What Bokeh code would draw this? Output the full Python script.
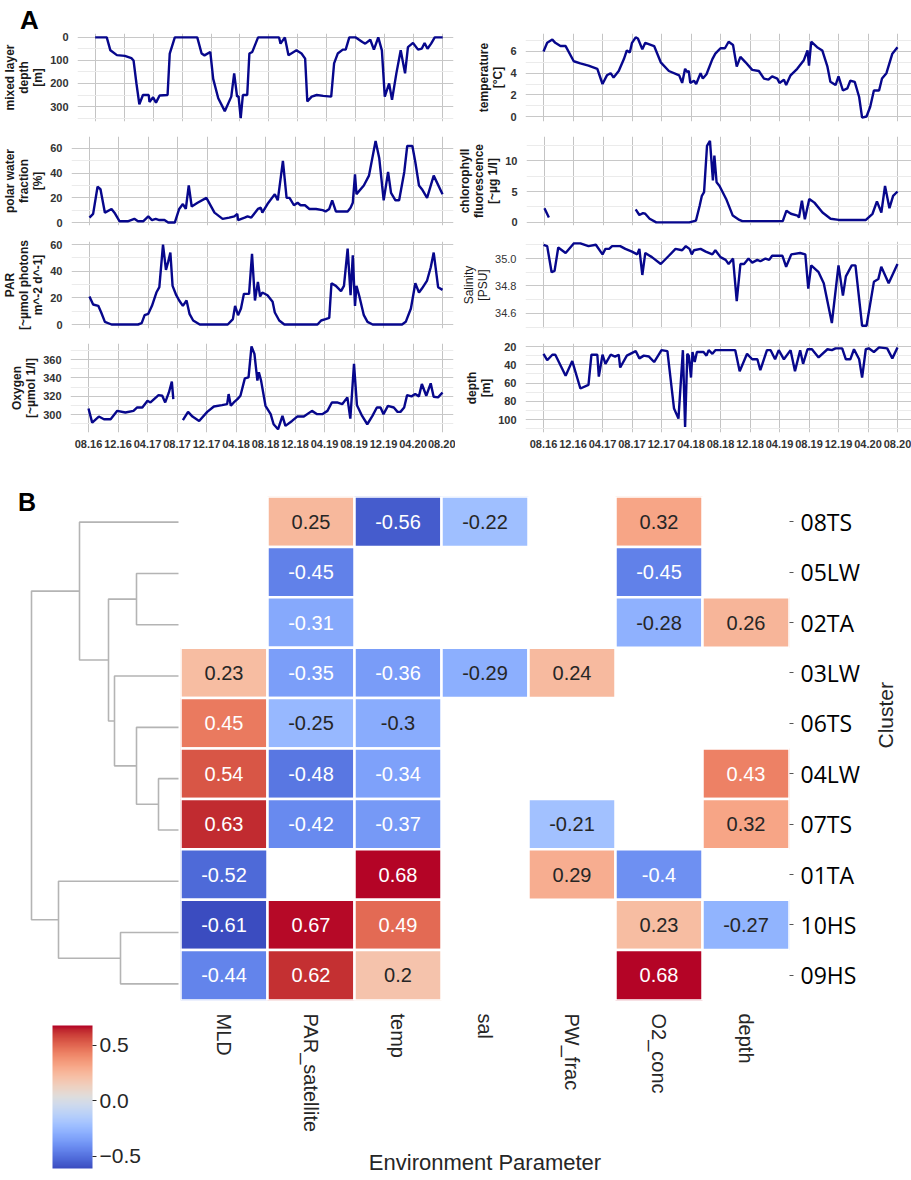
import math
import numpy as np
from bokeh.plotting import figure
from bokeh.layouts import row, column
from bokeh.models import (Range1d, FixedTicker, LinearColorMapper, ColorBar, Div,
                          ColumnDataSource, NumeralTickFormatter)
from bokeh.core.properties import value
from bokeh.embed import file_html
from bokeh.resources import INLINE

nan = float("nan")

# ------------------------------------------------------------------ Panel A data
# x = months since 08.2016
date_ticks = [0, 4, 8, 12, 16, 20, 24, 28, 32, 36, 40, 44, 48]
date_labels = ["08.16", "12.16", "04.17", "08.17", "12.17", "04.18", "08.18",
               "12.18", "04.19", "08.19", "12.19", "04.20", "08.20"]

mld_month = [0.0, 1.6, 2.1, 3.0, 4.1, 5.0, 5.3, 5.7, 6.1, 6.6, 7.4, 7.5, 8.0, 8.4, 8.9, 10.0, 10.3, 11.0,
             14.1, 14.7, 15.1, 15.9, 16.3, 17.0, 17.9, 18.8, 19.2, 19.6, 19.8, 20.1, 20.4, 21.0, 21.3, 21.7,
             22.5, 25.4, 25.6, 26.2, 26.7, 27.8, 28.5, 29.0, 29.3, 29.9, 30.6, 31.5, 32.6, 33.0, 33.5, 34.2,
             34.6, 35.1, 36.0, 36.9, 37.3, 38.0, 38.5, 39.1, 39.6, 40.0, 40.6, 41.0, 41.6, 42.2, 42.8, 43.2,
             43.9, 44.6, 45.1, 45.5, 45.9, 46.4, 46.9, 48.0]
mld_m = [0, 0, 56, 77, 80, 90, 100, 200, 290, 250, 250, 280, 260, 283, 252, 250, 70, 0,
         0, 70, 78, 63, 180, 264, 320, 257, 156, 257, 255, 350, 250, 250, 70, 63,
         0, 0, 27, 0, 77, 56, 70, 92, 278, 257, 250, 254, 257, 113, 70, 53,
         53, 0, 0, 20, 27, 10, 53, 0, 56, 257, 200, 271, 156, 56, 156, 42,
         24, 53, 49, 24, 49, 27, 0, 0]

temp_month = [0.0, 0.5, 1.2, 1.6, 2.3, 3.0, 4.1, 5.0, 6.1, 7.3, 8.0, 8.6, 9.1, 9.5, 10.2, 10.9, 11.3, 11.7,
              12.0, 12.5, 12.8, 13.4, 13.8, 15.0, 15.9, 17.0, 18.4, 18.8, 19.2, 19.5, 19.7, 19.9, 20.4, 20.7,
              21.3, 21.6, 22.1, 22.9, 23.3, 24.0, 24.6, 25.1, 25.7, 26.2, 26.7, 27.4, 28.3, 29.2, 29.9, 30.5,
              31.0, 31.7, 32.0, 32.6, 32.9, 33.5, 34.4, 35.3, 35.8, 36.0, 36.3, 37.1, 37.8, 38.5, 38.9, 39.6,
              40.0, 40.6, 41.2, 41.6, 42.2, 42.8, 43.2, 43.8, 44.3, 44.8, 45.5, 45.9, 46.5, 47.3, 48.0]
temp_c = [6.0, 6.8, 7.1, 6.8, 6.5, 6.5, 5.1, 4.9, 4.7, 4.4, 3.0, 3.8, 4.0, 3.6, 4.2, 5.3, 6.1, 5.9,
          6.8, 7.3, 7.2, 6.2, 6.8, 6.5, 5.0, 4.2, 3.8, 3.1, 4.4, 4.1, 4.2, 3.1, 3.3, 3.0,
          4.0, 3.5, 3.9, 5.3, 5.8, 6.3, 6.3, 6.9, 6.6, 4.6, 5.5, 5.0, 4.3, 4.2, 3.5, 3.4,
          3.7, 3.5, 3.1, 3.4, 2.9, 3.8, 4.4, 5.2, 6.1, 4.7, 6.9, 6.4, 6.1, 4.6, 3.2, 2.9,
          3.7, 2.4, 2.6, 3.3, 3.2, 1.8, -0.1, 0.0, 0.9, 2.4, 2.4, 3.5, 4.0, 5.8, 6.4]

pw_month = [0.0, 0.5, 1.1, 1.5, 2.1, 3.0, 3.4, 4.1, 5.2, 6.1, 6.6, 7.3, 8.0, 8.5, 9.0, 9.5, 10.2, 10.7,
            11.6, 12.2, 12.7, 13.1, 13.5, 13.9, 14.7, 15.9, 17.0, 18.1, 19.0, 19.7, 20.1, 20.2, 21.1, 21.5,
            22.0, 22.9, 23.3, 23.5, 24.2, 25.2, 25.6, 26.3, 26.8, 27.2, 27.8, 28.3, 28.7, 29.3, 29.9, 30.8,
            31.7, 32.1, 32.6, 33.0, 33.5, 35.1, 35.5, 35.8, 36.1, 36.3, 37.3, 38.0, 38.9, 39.4, 40.0, 40.6,
            41.0, 41.6, 42.1, 42.8, 43.2, 43.9, 44.3, 44.8, 45.2, 45.9, 46.8, 48.0]
pw_pct = [4, 7, 29, 27, 8, 11, 8, 1, 1, 3, 1, 1, 5, 2, 3, 2, 2, 0,
          0, 11, 15, 11, 30, 13, 16, 20, 8, 3, 4, 5, 7, 2, 4, 5,
          4, 11, 12, 8, 15, 23, 18, 50, 20, 20, 14, 16, 14, 14, 11, 11,
          10, 9, 11, 18, 9, 9, 12, 16, 39, 23, 30, 38, 66, 52, 18, 41,
          24, 18, 18, 41, 62, 62, 49, 30, 27, 20, 38, 23]

chl_month = [0.0, 0.6, 6.0, 12.4, 12.9, 13.4, 13.7, 14.3, 15.2, 19.7, 20.6, 21.1, 21.4, 21.7, 22.1, 22.5,
             22.9, 23.1, 23.4, 23.8, 24.7, 25.6, 26.5, 26.9, 32.4, 32.9, 33.5, 34.4, 34.6, 35.0, 35.4, 36.0,
             36.7, 37.8, 38.9, 40.0, 43.7, 44.6, 45.2, 45.8, 46.3, 46.9, 47.4, 48.0]
chl_ug = [2.3, 0.8, nan, 2.1, 1.2, 1.5, 1.4, 0.6, 0.0, 0.0, 0.3, 2.7, 4.3, 4.9, 12.4, 13.2,
          6.8, 10.8, 6.5, 5.9, 3.8, 1.1, 0.4, 0.2, 0.2, 1.9, 1.4, 1.1, 0.8, 3.5, 0.5, 3.8,
          3.2, 1.6, 0.6, 0.4, 0.4, 1.4, 3.4, 1.6, 5.9, 2.3, 4.3, 5.0]

par_month = [0.0, 0.5, 1.2, 1.6, 2.1, 3.0, 6.6, 7.1, 7.5, 8.0, 8.5, 9.1, 9.5, 10.0, 10.4, 10.7, 11.0, 11.3,
             11.8, 12.2, 12.7, 13.2, 13.6, 14.1, 15.0, 18.8, 19.5, 19.8, 20.2, 20.6, 21.0, 21.7, 22.1, 22.5,
             22.9, 23.2, 23.5, 24.2, 24.9, 25.2, 25.8, 26.5, 31.0, 31.5, 32.1, 32.6, 32.9, 33.5, 34.2, 34.6,
             35.1, 35.5, 35.8, 36.1, 36.3, 36.7, 37.3, 37.8, 38.5, 42.5, 43.0, 43.7, 44.3, 44.8, 45.2, 45.9,
             46.4, 46.8, 47.4, 48.0]
par_val = [21, 15, 14, 9, 2, 0, 0, 1, 7, 8, 14, 24, 28, 60, 41, 47, 54, 29,
           22, 18, 14, 18, 8, 3, 0, 0, 4, 14, 7, 12, 23, 23, 53, 18,
           32, 21, 24, 22, 17, 9, 3, 0, 0, 3, 4, 5, 31, 29, 25, 29,
           57, 22, 52, 14, 29, 21, 7, 2, 0, 0, 2, 12, 31, 24, 27, 33,
           43, 54, 28, 26]

sal_month = [0.0, 0.5, 1.1, 1.5, 2.0, 3.0, 4.1, 5.0, 6.1, 7.1, 8.0, 8.4, 8.9, 9.3, 10.4, 11.1, 12.0, 12.7,
             13.0, 13.4, 13.8, 14.7, 15.9, 17.0, 17.9, 18.8, 19.3, 19.8, 20.1, 20.4, 21.3, 22.0, 22.9, 23.3,
             24.0, 24.7, 25.1, 25.7, 26.2, 26.7, 27.2, 27.8, 28.3, 29.0, 29.4, 30.1, 30.6, 31.0, 32.4, 32.9,
             33.6, 34.8, 35.5, 35.9, 36.3, 37.3, 38.0, 39.1, 40.0, 40.6, 41.0, 41.8, 42.3, 43.2, 43.8, 44.8,
             45.4, 45.8, 46.8, 48.0]
sal_psu = [35.10, 35.09, 34.90, 34.91, 35.08, 35.04, 35.11, 35.11, 35.09, 35.10, 35.03, 35.07, 35.07,
           35.09, 35.09, 35.07, 35.05, 35.03, 35.07, 34.88, 35.04, 35.01, 34.96, 35.02, 35.07, 35.06,
           35.09, 35.07, 35.03, 35.06, 35.07, 35.05, 35.03, 35.06, 35.01, 34.99, 34.96, 35.00, 34.69,
           34.96, 34.96, 35.00, 34.97, 34.99, 34.98, 35.00, 34.99, 35.02, 35.02, 34.94, 35.03, 35.04,
           35.03, 34.78, 34.95, 34.90, 34.82, 34.53, 34.95, 34.73, 34.87, 34.95, 34.95, 34.51, 34.51,
           34.83, 34.85, 34.94, 34.82, 34.96]

oxy_month = [0.0, 0.5, 1.4, 2.1, 3.0, 3.9, 5.0, 6.1, 6.6, 7.3, 8.0, 8.4, 9.5, 10.0, 10.4, 10.9, 11.3, 11.5,
             12.1, 12.8, 13.5, 14.1, 15.0, 16.1, 17.0, 18.1, 18.8, 19.0, 19.3, 19.7, 20.2, 20.6, 21.2, 21.7,
             22.1, 22.5, 22.9, 23.1, 23.4, 24.0, 24.7, 25.1, 25.7, 26.3, 26.7, 27.6, 28.3, 29.2, 30.3, 31.0,
             31.7, 32.4, 33.0, 33.7, 34.4, 35.1, 35.5, 36.0, 36.4, 37.1, 37.8, 38.5, 39.1, 39.6, 40.0, 40.6,
             41.4, 41.9, 42.3, 42.8, 43.2, 43.8, 44.3, 44.8, 45.2, 45.8, 46.4, 46.8, 47.4, 48.0]
oxy_umol = [306.6, 291.2, 297.8, 294.9, 294.9, 304.0, 302.2, 304.0, 307.7, 307.7, 315.0, 313.2, 321.2,
            320.5, 313.2, 324.1, 335.9, 316.8, nan, 293.8, 302.9, 297.8, 293.0, 302.9, 308.8, 310.2,
            311.3, 322.3, 309.5, 313.2, 316.8, 320.5, 339.5, 340.6, 374.3, 366.2, 337.0, 346.1, 337.0,
            309.5, 300.4, 289.4, 283.9, 298.5, 287.6, 293.0, 297.8, 297.8, 304.0, 300.4, 300.4, 304.0,
            313.2, 313.2, 311.3, 318.7, 295.6, 355.2, 310.2, 298.5, 289.4, 298.5, 307.7, 307.7, 300.4,
            309.5, 307.7, 302.9, 302.9, 307.7, 321.2, 319.8, 322.3, 319.8, 333.3, 320.5, 334.0, 319.4,
            318.7, 324.1]

dep_month = [0.0, 0.5, 1.2, 1.6, 3.0, 3.9, 5.0, 6.1, 6.5, 7.3, 7.5, 8.0, 8.4, 9.1, 9.7, 10.2, 10.4, 11.3,
             12.5, 13.0, 13.6, 14.3, 15.0, 16.0, 16.8, 17.7, 18.3, 18.9, 19.2, 19.5, 19.7, 20.0, 20.2, 20.5,
             20.8, 21.7, 22.1, 22.4, 22.9, 23.3, 24.2, 26.0, 26.6, 27.6, 28.3, 29.0, 29.4, 30.3, 30.8, 31.4,
             31.9, 32.6, 33.5, 34.1, 34.8, 35.2, 35.8, 36.4, 37.3, 38.5, 39.1, 39.6, 40.5, 41.0, 41.6, 42.1,
             42.8, 43.2, 43.7, 44.1, 44.8, 45.5, 46.6, 47.3, 48.0]
dep_m = [28, 35, 29, 29, 52, 36, 66, 62, 29, 29, 53, 29, 39, 29, 31, 29, 43, 30,
         25, 33, 30, 31, 37, 24, 25, 88, 99, 24, 108, 28, 30, 54, 26, 37,
         26, 26, 30, 24, 28, 24, 24, 24, 47, 28, 34, 34, 46, 24, 24, 34,
         24, 34, 24, 47, 24, 39, 23, 23, 32, 23, 24, 22, 22, 34, 34, 23,
         34, 54, 23, 22, 26, 21, 22, 33, 21]

# ------------------------------------------------------------------ Panel B data
clusters = ["08TS", "05LW", "02TA", "03LW", "06TS", "04LW", "07TS", "01TA", "10HS", "09HS"]
params = ["MLD", "PAR_satellite", "temp", "sal", "PW_frac", "O2_conc", "depth"]
corr_MLD = [nan, nan, nan, 0.23, 0.45, 0.54, 0.63, -0.52, -0.61, -0.44]
corr_PAR_satellite = [0.25, -0.45, -0.31, -0.35, -0.25, -0.48, -0.42, nan, 0.67, 0.62]
corr_temp = [-0.56, nan, nan, -0.36, -0.3, -0.34, -0.37, 0.68, 0.49, 0.2]
corr_sal = [-0.22, nan, nan, -0.29, nan, nan, nan, nan, nan, nan]
corr_PW_frac = [nan, nan, nan, 0.24, nan, nan, -0.21, 0.29, nan, nan]
corr_O2_conc = [0.32, -0.45, -0.28, nan, nan, nan, nan, -0.4, 0.23, 0.68]
corr_depth = [nan, nan, 0.26, nan, nan, 0.43, 0.32, nan, -0.27, nan]
cbar_ticks = [-0.5, 0.0, 0.5]
cbar_tick_labels = ["\u22120.5", "0.0", "0.5"]

# dendrogram merges: (child a, child b, merge height); leaves 0..9 in cluster order, new nodes 10..
dendro_merges = [(5, 6, 20), (1, 2, 42), (4, 10, 42), (8, 9, 58), (3, 12, 64),
                 (11, 14, 70), (0, 15, 99), (7, 13, 120), (16, 17, 147)]

# ------------------------------------------------------------------ styling helpers
LINE_COLOR = "#07078c"
FONT = "Liberation Sans"

# matplotlib "coolwarm" (Moreland) anchor colours
_coolwarm_anchors = [
    (59, 76, 192), (68, 90, 204), (77, 104, 215), (87, 117, 225), (98, 130, 234), (108, 142, 241),
    (119, 154, 247), (130, 165, 251), (141, 176, 254), (152, 185, 255), (163, 194, 255), (174, 201, 253),
    (184, 208, 249), (194, 213, 244), (204, 217, 238), (213, 219, 230), (221, 221, 221), (229, 216, 209),
    (236, 211, 197), (241, 204, 185), (245, 196, 173), (247, 187, 160), (247, 177, 148), (247, 166, 135),
    (244, 154, 123), (241, 141, 111), (236, 127, 99), (229, 112, 88), (222, 96, 77), (213, 80, 66),
    (203, 62, 56), (192, 40, 47), (180, 4, 38)]


def make_palette(anchors, n=256):
    out = []
    for i in range(n):
        t = i / (n - 1) * (len(anchors) - 1)
        k = min(int(t), len(anchors) - 2)
        f = t - k
        c = [round(anchors[k][j] + (anchors[k + 1][j] - anchors[k][j]) * f) for j in range(3)]
        out.append("#%02x%02x%02x" % tuple(c))
    return out


COOLWARM = make_palette(_coolwarm_anchors)


def rel_lum(hexc):
    rgb = [int(hexc[i:i + 2], 16) / 255 for i in (1, 3, 5)]
    lin = [c / 12.92 if c <= 0.03928 else ((c + 0.055) / 1.055) ** 2.4 for c in rgb]
    return 0.2126 * lin[0] + 0.7152 * lin[1] + 0.0722 * lin[2]


PX_PER_MONTH = 7.375


def ts_panel(month, vals, yr, yticks, yminor, label, side, top, bottom, height,
             show_dates=False, bold=True, yfmt=None):
    if side == "left":
        width, left, right, frame_w = 455, 70, 2, 383
    else:
        width, left, right, frame_w = 456, 70, 0, 386
    x0 = -18 / PX_PER_MONTH
    xr = Range1d(x0, x0 + frame_w / PX_PER_MONTH)
    p = figure(width=width, height=height, x_range=xr, y_range=Range1d(*yr),
               output_backend="svg", toolbar_location=None,
               min_border_left=left, min_border_right=right,
               min_border_top=top, min_border_bottom=bottom)
    p.outline_line_color = None
    src = ColumnDataSource(dict(month=np.array(month, dtype=float), val=np.array(vals, dtype=float)))
    p.line("month", "val", source=src, line_color=LINE_COLOR, line_width=2.4)

    xt = FixedTicker(ticks=date_ticks, minor_ticks=[])
    p.xaxis.ticker = xt
    p.xgrid.ticker = xt
    p.xgrid.grid_line_color = "#c4c4c4"
    yt = FixedTicker(ticks=yticks, minor_ticks=yminor)
    p.yaxis.ticker = yt
    p.ygrid.ticker = yt
    p.ygrid.grid_line_color = "#c8c8c8"
    p.ygrid.minor_grid_line_color = "#ebebeb"
    if yfmt is not None:
        p.yaxis.formatter = NumeralTickFormatter(format=yfmt)

    style = "bold" if bold else "normal"
    for ax in (p.xaxis[0], p.yaxis[0]):
        ax.axis_line_color = None
        ax.major_tick_line_color = None
        ax.minor_tick_line_color = None
        ax.major_label_text_font = FONT
        ax.major_label_text_font_size = "11px"
        ax.major_label_text_font_style = style
        ax.major_label_text_color = "#333333"
    p.yaxis.major_label_standoff = 3
    p.yaxis.axis_label = label
    p.yaxis.axis_label_text_font = FONT
    p.yaxis.axis_label_text_font_size = "12px"
    p.yaxis.axis_label_text_font_style = style
    p.yaxis.axis_label_text_color = "#1a1a1a"
    p.yaxis.axis_label_text_line_height = 1.0
    p.yaxis.axis_label_standoff = 2
    if show_dates:
        p.xaxis.major_label_overrides = {t: l for t, l in zip(date_ticks, date_labels)}
        p.xaxis.major_label_standoff = 1
    else:
        p.xaxis.visible = False
    return p


# row borders / heights (top, bottom, height)
R1 = (3, 8, 99)
R2 = (7, 8, 104)
R3 = (8, 8, 103)
R4 = (7, 56, 152)

p_mld = ts_panel(mld_month, mld_m, (365, -17), [0, 100, 200, 300], [50, 150, 250, 350],
                 "mixed layer\ndepth\n[m]", "left", *R1)
p_temp = ts_panel(temp_month, temp_c, (-0.46, 7.66), [0, 2, 4, 6], [1, 3, 5, 7],
                  "temperature\n[°C]", "right", *R1)
p_pw = ts_panel(pw_month, pw_pct, (-2.4, 69.7), [0, 20, 40, 60], [10, 30, 50],
                "polar water\nfraction\n[%]", "left", *R2)
p_chl = ts_panel(chl_month, chl_ug, (-0.5, 13.9), [0, 5, 10], [2.5, 7.5, 12.5],
                 "chlorophyll\nfluorescence\n[~µg 1/l]", "right", *R2)
p_par = ts_panel(par_month, par_val, (-3, 62.3), [0, 20, 40, 60], [10, 30, 50],
                 "PAR\n[~µmol photons\nm^-2 d^-1]", "left", *R3)
p_sal = ts_panel(sal_month, sal_psu, (34.49, 35.124), [34.6, 34.8, 35.0], [34.5, 34.7, 34.9, 35.1],
                 "Salinity\n[PSU]", "right", *R3, bold=False, yfmt="0.0")
p_oxy = ts_panel(oxy_month, oxy_umol, (280.4, 377.5), [300, 320, 340, 360], [290, 310, 330, 350, 370],
                 "Oxygen\n[~µmol 1/l]", "left", *R4, show_dates=True)
p_dep = ts_panel(dep_month, dep_m, (114.2, 16.7), [20, 40, 60, 80, 100], [30, 50, 70, 90, 110],
                 "depth\n[m]", "right", *R4, show_dates=True)

div_a = Div(text='<div style="font-family:Liberation Sans,Arial,sans-serif;font-weight:bold;'
                 'font-size:26px;line-height:26px;padding:7px 0 0 20px;color:#000;">A</div>',
            width=911, height=30, margin=(0, 0, 0, 0))

# ------------------------------------------------------------------ Panel B
corr_columns = [corr_MLD, corr_PAR_satellite, corr_temp, corr_sal, corr_PW_frac, corr_O2_conc, corr_depth]
all_vals = [v for col in corr_columns for v in col if not math.isnan(v)]
vmin, vmax = min(all_vals), max(all_vals)
mapper = LinearColorMapper(palette=COOLWARM, low=vmin, high=vmax)

cx, cy, cv, clab, ctc = [], [], [], [], []
for prm, col in zip(params, corr_columns):
    for cl, v in zip(clusters, col):
        if math.isnan(v):
            continue
        idx = min(255, max(0, int((v - vmin) / (vmax - vmin) * 256)))
        cx.append(prm)
        cy.append(cl)
        cv.append(v)
        clab.append(format(v, ".2g"))
        ctc.append("#262626" if rel_lum(COOLWARM[idx]) > 0.408 else "#ffffff")
hsrc = ColumnDataSource(dict(param=cx, cluster=cy, val=cv, label=clab, tcolor=ctc))

LEFT_W = 180
HM_W, HM_H = 731, 690
HM_TOP, HM_BOTTOM, HM_RIGHT = 8, 169, 114
hm = figure(width=HM_W, height=HM_H, x_range=params, y_range=list(reversed(clusters)),
            y_axis_location="right", output_backend="svg", toolbar_location=None,
            min_border_left=0, min_border_right=HM_RIGHT, min_border_top=HM_TOP,
            min_border_bottom=HM_BOTTOM)
hm.outline_line_color = None
hm.grid.visible = False
hm.rect(x="param", y="cluster", width=1, height=1, source=hsrc,
        fill_color={"field": "val", "transform": mapper}, line_color="white", line_width=2.5)
hm.text(x="param", y="cluster", text="label", text_color="tcolor", source=hsrc,
        text_align="center", text_baseline="middle", text_font=value(FONT), text_font_size="20px")

hm.xaxis.axis_line_color = None
hm.xaxis.major_tick_line_color = None
hm.xaxis.major_label_orientation = "vertical"
hm.xaxis.major_label_text_font = FONT
hm.xaxis.major_label_text_font_size = "20px"
hm.xaxis.major_label_text_color = "#262626"
hm.xaxis.major_label_standoff = 7
hm.xaxis.axis_label = "Environment Parameter"
hm.xaxis.axis_label_text_font = FONT
hm.xaxis.axis_label_text_font_size = "22px"
hm.xaxis.axis_label_text_font_style = "normal"
hm.xaxis.axis_label_text_color = "#262626"
hm.xaxis.axis_label_standoff = 15

hm.yaxis.axis_line_color = None
hm.yaxis.major_tick_line_color = "#555555"
hm.yaxis.major_tick_out = 4
hm.yaxis.major_tick_in = 0
hm.yaxis.major_label_text_font = "Open Sans"
hm.yaxis.major_label_text_font_size = "23px"
hm.yaxis.major_label_text_color = "#000000"
hm.yaxis.major_label_standoff = 7
hm.yaxis.axis_label = "Cluster"
hm.yaxis.axis_label_orientation = math.pi / 2
hm.yaxis.axis_label_text_font = FONT
hm.yaxis.axis_label_text_font_size = "21px"
hm.yaxis.axis_label_text_font_style = "normal"
hm.yaxis.axis_label_text_color = "#262626"
hm.yaxis.axis_label_text_line_height = 1.0
hm.yaxis.axis_label_standoff = 22

# dendrogram, aligned with the heatmap rows
DIV_B_H = 24
FRAME_H = HM_H - HM_TOP - HM_BOTTOM
DEN_H = HM_TOP + FRAME_H - DIV_B_H
row_px = FRAME_H / len(clusters)
y_bottom = len(clusters) - 0.5
y_top = y_bottom - DEN_H / row_px
den = figure(width=LEFT_W, height=DEN_H, x_range=Range1d(178, -2), y_range=Range1d(y_bottom, y_top),
             output_backend="svg", toolbar_location=None,
             min_border_left=0, min_border_right=0, min_border_top=0, min_border_bottom=0)
den.outline_line_color = None
den.axis.visible = False
den.grid.visible = False
node_y = {i: float(i) for i in range(len(clusters))}
node_h = {i: 0.0 for i in range(len(clusters))}
xs, ys = [], []
for k, (a, b, h) in enumerate(dendro_merges):
    nid = len(clusters) + k
    xs.append([node_h[a], h, h, node_h[b]])
    ys.append([node_y[a], node_y[a], node_y[b], node_y[b]])
    node_y[nid] = (node_y[a] + node_y[b]) / 2
    node_h[nid] = h
den.multi_line(xs=xs, ys=ys, line_color="#b4b4b4", line_width=1.6)

div_b = Div(text='<div style="font-family:Liberation Sans,Arial,sans-serif;font-weight:bold;'
                 'font-size:25px;line-height:25px;padding:2px 0 0 18px;color:#000;">B</div>',
            width=LEFT_W, height=DIV_B_H, margin=(0, 0, 0, 0))

# colour bar
CB_H = HM_H - DIV_B_H - DEN_H
cbf = figure(width=LEFT_W, height=CB_H, output_backend="svg", toolbar_location=None,
             min_border_left=0, min_border_right=0, min_border_top=0, min_border_bottom=0)
cbf.outline_line_color = None
cbf.axis.visible = False
cbf.grid.visible = False
cb = ColorBar(color_mapper=mapper, width=40, height=143, location=(52, 10), padding=0, margin=0,
              ticker=FixedTicker(ticks=cbar_ticks),
              major_label_overrides={t: l for t, l in zip(cbar_ticks, cbar_tick_labels)},
              major_label_text_font=FONT, major_label_text_font_size="21px",
              major_label_text_color="#262626", major_tick_in=0, major_tick_out=4,
              major_tick_line_color="#262626", bar_line_color=None, label_standoff=3,
              background_fill_alpha=0, border_line_color=None)
cbf.add_layout(cb, "center")

left_b = column(div_b, den, cbf, spacing=0)
panel_b = row(left_b, hm, spacing=0)

layout = column(div_a,
                row(p_mld, p_temp, spacing=0),
                row(p_pw, p_chl, spacing=0),
                row(p_par, p_sal, spacing=0),
                row(p_oxy, p_dep, spacing=0),
                panel_b, spacing=0)

open("out.html", "w").write(file_html(layout, INLINE))
